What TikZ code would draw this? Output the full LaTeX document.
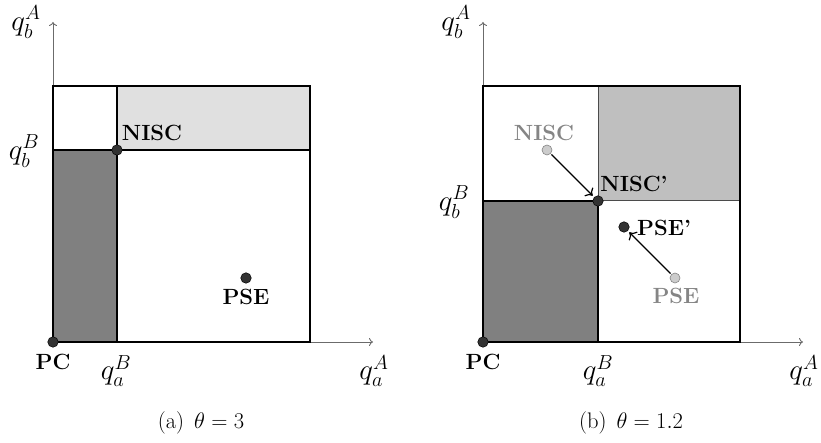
\documentclass[tikz,border=0pt]{standalone}
\usepackage{fix-cm}
\usepackage{amsmath,amssymb}
\usetikzlibrary{arrows.meta,positioning}
\definecolor{ink}{gray}{0.0}
\definecolor{axisgrey}{gray}{0.42}
\definecolor{regiondark}{gray}{0.5}
\definecolor{regionlight}{gray}{0.88}
\definecolor{regionmid}{gray}{0.75}
\definecolor{dotdark}{gray}{0.2}
\definecolor{dotfaded}{gray}{0.8}
\definecolor{textfaded}{gray}{0.52}

\begin{document}
\begin{tikzpicture}[x=1pt,y=1pt,
    font=\fontsize{21.5}{26}\selectfont,
    axis/.style={draw=axisgrey,line width=0.9pt,-{To[length=4pt,width=8pt]}},
    border/.style={draw=ink,line width=1.9pt},
    divider/.style={draw=axisgrey!70!black,line width=1pt},
    dot/.style={circle,fill=dotdark,draw=ink,line width=0.5pt,inner sep=0pt,minimum size=10.5pt},
    olddot/.style={circle,fill=dotfaded,draw=textfaded,line width=0.6pt,inner sep=0pt,minimum size=10pt},
    tag/.style={font=\fontsize{22}{26}\selectfont\bfseries,inner sep=1pt},
    oldtag/.style={tag,text=textfaded},
    qlabel/.style={font=\fontsize{29}{34}\selectfont,inner sep=0pt},
    caption/.style={font=\fontsize{22.5}{26}\selectfont},
    move/.style={draw=ink,line width=1.2pt,-{To[length=6pt,width=12pt]},shorten >=2pt,shorten <=1pt}]
  \useasboundingbox (-53,-101) rectangle (768,342);

  % (a) theta = 3
  \fill[regiondark] (0,0) rectangle (64,192);
  \fill[regionlight] (64,192) rectangle (257,256);
  \draw[axis] (0,0) -- (320,0);
  \draw[axis] (0,0) -- (0,320);
  \draw[border] (0,0) rectangle (257,256);
  \draw[border] (64,0) -- (64,256);
  \draw[border] (0,192) -- (257,192);
  \node[dot] (pc) at (0,0) {};
  \node[dot] (nisc) at (64,192) {};
  \node[dot] (pse) at (193,64) {};
  \node[tag] (pcTag) at (0,-20) {PC};
  \node[tag] (niscTag) at (99,209) {NISC};
  \node[tag] (pseTag) at (193,45) {PSE};
  \node[qlabel] (qaB) at (63,-29) {$q_a^B$};
  \node[qlabel] (qaA) at (321,-29) {$q_a^A$};
  \node[qlabel] (qbB) at (-29,191) {$q_b^B$};
  \node[qlabel] (qbA) at (-27,320) {$q_b^A$};
  \node[caption] (capA) at (148,-81) {(a)\hspace{0.45em}$\theta = 3$};

  % (b) theta = 1.2
  \begin{scope}[shift={(430,0)}]
    \fill[regiondark] (0,0) rectangle (115,141);
    \fill[regionmid] (115,141) rectangle (257,256);
    \draw[axis] (0,0) -- (320,0);
    \draw[axis] (0,0) -- (0,320);
    \draw[divider] (115,141) -- (115,256);
    \draw[divider] (0,141) -- (257,141);
    \draw[border] (0,0) rectangle (257,256);
    \draw[border] (0,0) rectangle (115,141);
    \node[dot] (pcB) at (0,0) {};
    \node[olddot] (niscOld) at (64,192) {};
    \node[dot] (niscNew) at (115,141) {};
    \node[olddot] (pseOld) at (192,64) {};
    \node[dot] (pseNew) at (141,115) {};
    \node[tag] (pcTagB) at (0,-20) {PC};
    \node[oldtag] (niscOldTag) at (61,209) {NISC};
    \node[tag] (niscNewTag) at (151,158) {NISC'};
    \node[oldtag] (pseOldTag) at (193,46) {PSE};
    \node[tag] (pseNewTag) at (181,114) {PSE'};
    \draw[move] (niscOld) -- (niscNew);
    \draw[move] (pseOld) -- (pseNew);
    \node[qlabel] (qaBb) at (115,-29) {$q_a^B$};
    \node[qlabel] (qaAb) at (321,-29) {$q_a^A$};
    \node[qlabel] (qbBb) at (-29,140) {$q_b^B$};
    \node[qlabel] (qbAb) at (-27,320) {$q_b^A$};
    \node[caption] (capB) at (148,-81) {(b)\hspace{0.45em}$\theta = 1.2$};
  \end{scope}
\end{tikzpicture}
\end{document}
